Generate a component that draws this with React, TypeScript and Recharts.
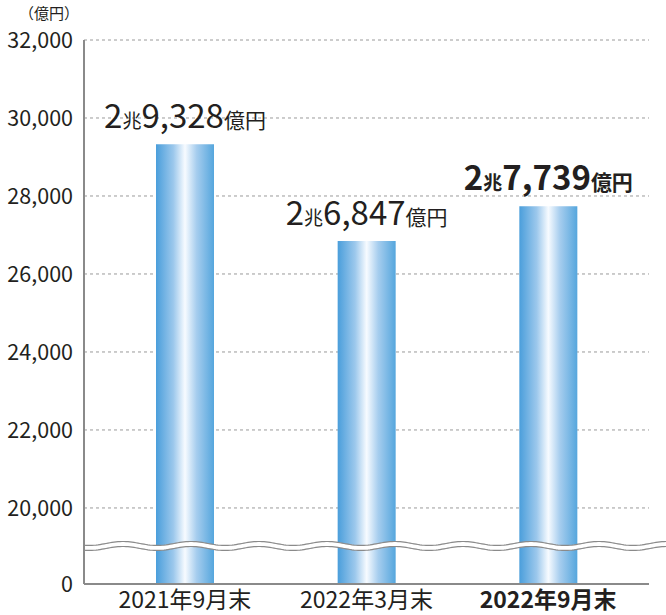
import {BarChart, Bar, XAxis, YAxis, CartesianGrid, LabelList, ReferenceLine} from 'recharts';

const periods = ['2021年9月末', '2022年3月末', '2022年9月末'];
const balances = [29328, 26847, 27739];
const chou = ['2', '2', '2'];
const oku = ['9,328', '6,847', '7,739'];
const yTicks = [20000, 22000, 24000, 26000, 28000, 30000, 32000];

// axis is broken: the "0" tick sits just below 20,000
const ZERO = 18050;
const FONT = '"Noto Sans CJK JP", "Noto Sans", sans-serif';

const data = periods.map((p, i) => ({
    period: p,
    value: balances[i],
    chou: chou[i],
    oku: oku[i],
    bold: i === periods.length - 1,
}));

const BarLabel = (props: any) => {
    const {x, y, width, index} = props;
    const d = data[index];
    const cx = x + width / 2;
    return (
        <text
            x={cx}
            y={y - 16}
            textAnchor='middle'
            fill='#231f20'
            fontFamily={FONT}
            fontWeight={d.bold ? 700 : 400}
        >
            <tspan fontSize={33}>{d.chou}</tspan>
            <tspan fontSize={19}>兆</tspan>
            <tspan fontSize={33}>{d.oku}</tspan>
            <tspan fontSize={21}>億円</tspan>
        </text>
    );
};

const XTick = (props: any) => {
    const {x, y, payload, index} = props;
    const bold = index === periods.length - 1;
    return (
        <text
            x={x}
            y={y}
            dy={22}
            textAnchor='middle'
            fill='#231f20'
            fontSize={23}
            fontFamily={FONT}
            fontWeight={bold ? 700 : 400}
        >
            {payload.value}
        </text>
    );
};

const Wave = (props: any) => {
    const {x1, x2, y1} = props;
    const start = x1;
    const end = x2 + 20;
    const len = 68;
    const amp = 2;
    const gap = 2.5;
    const phase = 39;
    const pts: number[] = [];
    for (let x = start; x <= end; x += 2) pts.push(x);
    const yAt = (x: number) => y1 - amp * Math.cos(((x - start - phase) / len) * Math.PI * 2);
    const upper = pts.map((x, i) => `${i ? 'L' : 'M'}${x},${yAt(x) - gap}`).join(' ');
    const lower = pts.map((x, i) => `${i ? 'L' : 'M'}${x},${yAt(x) + gap}`).join(' ');
    const band =
        upper +
        ' ' +
        pts
            .slice()
            .reverse()
            .map((x) => `L${x},${yAt(x) + gap}`)
            .join(' ') +
        ' Z';
    return (
        <g>
            <path d={band} fill='#fff' stroke='none' />
            <path d={upper} fill='none' stroke='#8a8a8a' strokeWidth={1.2} />
            <path d={lower} fill='none' stroke='#8a8a8a' strokeWidth={1.2} />
        </g>
    );
};

const App = () => {
    return (
        <div style={{position: 'absolute', left: 0, top: 0, width: 666, height: 615, background: '#fff'}}>
            <div
                style={{
                    position: 'absolute',
                    left: 19,
                    top: 5,
                    fontFamily: FONT,
                    fontSize: 15,
                    color: '#231f20',
                    lineHeight: '16px',
                }}
            >
                （億円）
            </div>
            <BarChart
                width={666}
                height={615}
                data={data}
                margin={{top: 40, right: 17, bottom: 0, left: 0}}
            >
                <defs>
                    <linearGradient id='barGrad' x1='0' y1='0' x2='1' y2='0'>
                        <stop offset='0%' stopColor='#4a9edb' />
                        <stop offset='30%' stopColor='#9cc8ec' />
                        <stop offset='50%' stopColor='#f7fbff' />
                        <stop offset='70%' stopColor='#a6cdee' />
                        <stop offset='100%' stopColor='#55a6dd' />
                    </linearGradient>
                </defs>
                <CartesianGrid
                    vertical={false}
                    stroke='#9a9a9a'
                    strokeDasharray='3 3'
                />
                <XAxis
                    dataKey='period'
                    height={31}
                    tickLine={false}
                    tickSize={0}
                    tick={<XTick />}
                    axisLine={{stroke: '#8a8a8a', strokeWidth: 2}}
                    padding={{left: 10, right: 10}}
                    interval={0}
                />
                <YAxis
                    width={84}
                    domain={[ZERO, 32000]}
                    ticks={[ZERO, ...yTicks]}
                    tickFormatter={(v: number) => (v === ZERO ? '0' : v.toLocaleString('en-US'))}
                    tickLine={false}
                    tickSize={0}
                    tickMargin={11}
                    tick={{fill: '#231f20', fontSize: 21.5, fontFamily: FONT}}
                    axisLine={{stroke: '#8a8a8a', strokeWidth: 2}}
                    allowDataOverflow
                />
                <Bar dataKey='value' barSize={58} fill='url(#barGrad)' isAnimationActive={false}>
                    <LabelList dataKey='value' content={<BarLabel />} />
                </Bar>
                <ReferenceLine
                    y={(ZERO + 20000) / 2}
                    shape={<Wave />}
                    ifOverflow='visible'
                />
            </BarChart>
        </div>
    );
};

export default App;
